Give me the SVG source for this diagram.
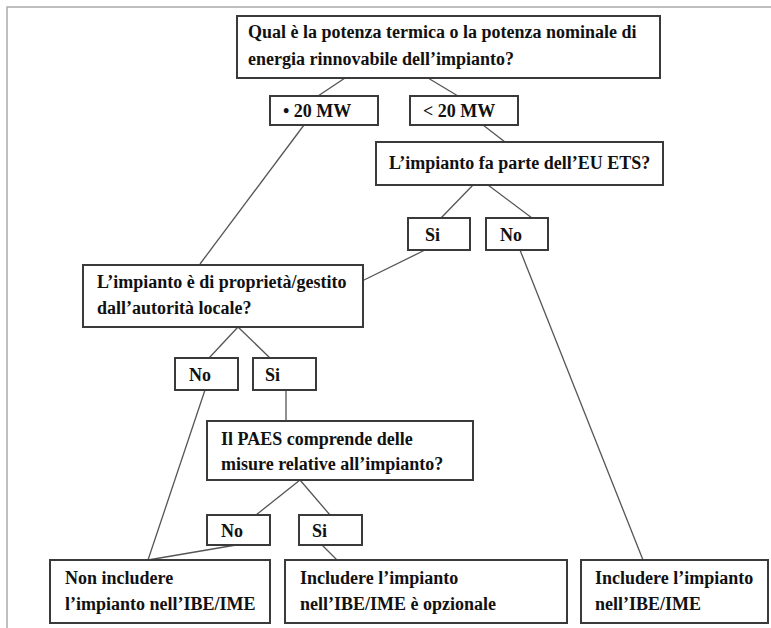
<svg xmlns="http://www.w3.org/2000/svg" width="771" height="628" viewBox="0 0 771 628">
<style>
.box{fill:#fff;stroke:#3a3a3a;stroke-width:2}
.t{font-family:"Liberation Serif","Times New Roman",serif;font-weight:bold;font-size:18px;fill:#111}
.c{stroke:#555;stroke-width:1.3;fill:none}
.frame{stroke:#aaa;stroke-width:1.5;fill:none}
</style>
<rect width="771" height="628" fill="#fff"/>
<path class="frame" d="M7 628V7H771"/>
<g id="connectors">
<line class="c" x1="345" y1="78" x2="318" y2="96"/>
<line class="c" x1="428" y1="78" x2="458" y2="96"/>
<line class="c" x1="483" y1="125" x2="505" y2="142"/>
<line class="c" x1="304" y1="125" x2="200" y2="264"/>
<line class="c" x1="473" y1="185" x2="441" y2="218"/>
<line class="c" x1="488" y1="185" x2="532" y2="218"/>
<line class="c" x1="425" y1="250" x2="362" y2="281"/>
<line class="c" x1="520" y1="250" x2="643" y2="560"/>
<line class="c" x1="238" y1="327" x2="209" y2="358"/>
<line class="c" x1="238" y1="327" x2="270" y2="358"/>
<line class="c" x1="205" y1="390" x2="148" y2="560"/>
<line class="c" x1="286" y1="390" x2="286" y2="421"/>
<line class="c" x1="300" y1="480" x2="256" y2="515"/>
<line class="c" x1="300" y1="480" x2="330" y2="515"/>
<line class="c" x1="236" y1="545" x2="148" y2="560"/>
<line class="c" x1="322" y1="545" x2="337" y2="560"/>
</g>
<g id="q1">
<rect class="box" x="237" y="16" width="423" height="62"/>
<text class="t" x="248" y="38">Qual è la potenza termica o la potenza nominale di</text>
<text class="t" x="248" y="65">energia rinnovabile dell’impianto?</text>
</g>
<g id="ge20">
<rect class="box" x="270" y="96" width="108" height="29"/>
<text class="t" x="283" y="117">• 20 MW</text>
</g>
<g id="lt20">
<rect class="box" x="410" y="96" width="108" height="29"/>
<text class="t" x="423" y="117">&lt; 20 MW</text>
</g>
<g id="q2">
<rect class="box" x="376" y="142" width="287" height="43"/>
<text class="t" x="389" y="169">L’impianto fa parte dell’EU ETS?</text>
</g>
<g id="si1">
<rect class="box" x="408" y="218" width="62" height="32"/>
<text class="t" x="425" y="241">Si</text>
</g>
<g id="no1">
<rect class="box" x="486" y="218" width="62" height="32"/>
<text class="t" x="500" y="241">No</text>
</g>
<g id="q3">
<rect class="box" x="83" y="265" width="280" height="62"/>
<text class="t" x="97" y="288">L’impianto è di proprietà/gestito</text>
<text class="t" x="97" y="314">dall’autorità locale?</text>
</g>
<g id="no2">
<rect class="box" x="175" y="358" width="63" height="32"/>
<text class="t" x="189" y="381">No</text>
</g>
<g id="si2">
<rect class="box" x="253" y="358" width="63" height="32"/>
<text class="t" x="265" y="381">Si</text>
</g>
<g id="q4">
<rect class="box" x="207" y="421" width="266" height="59"/>
<text class="t" x="221" y="445">Il PAES comprende delle</text>
<text class="t" x="221" y="470">misure relative all’impianto?</text>
</g>
<g id="no3">
<rect class="box" x="207" y="515" width="63" height="30"/>
<text class="t" x="221" y="537">No</text>
</g>
<g id="si3">
<rect class="box" x="299" y="515" width="63" height="30"/>
<text class="t" x="312" y="537">Si</text>
</g>
<g id="r1">
<rect class="box" x="50" y="560" width="220" height="63"/>
<text class="t" x="65" y="584">Non includere</text>
<text class="t" x="65" y="610">l’impianto nell’IBE/IME</text>
</g>
<g id="r2">
<rect class="box" x="285" y="560" width="282" height="63"/>
<text class="t" x="300" y="584">Includere l’impianto</text>
<text class="t" x="300" y="610">nell’IBE/IME è opzionale</text>
</g>
<g id="r3">
<rect class="box" x="581" y="560" width="187" height="63"/>
<text class="t" x="595" y="584">Includere l’impianto</text>
<text class="t" x="595" y="610">nell’IBE/IME</text>
</g>
</svg>
